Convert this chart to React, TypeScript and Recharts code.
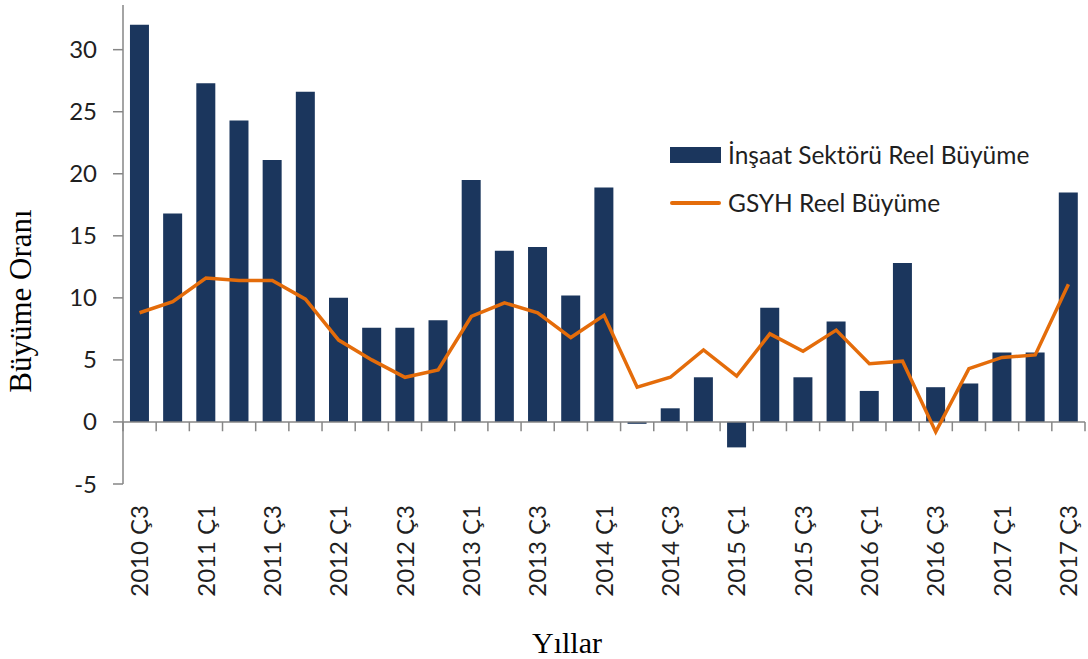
import { ComposedChart, Bar, Line, XAxis, YAxis, ReferenceLine, Legend } from "recharts";

const quarters = [
  "2010 Ç3", "2010 Ç4",
  "2011 Ç1", "2011 Ç2", "2011 Ç3", "2011 Ç4",
  "2012 Ç1", "2012 Ç2", "2012 Ç3", "2012 Ç4",
  "2013 Ç1", "2013 Ç2", "2013 Ç3", "2013 Ç4",
  "2014 Ç1", "2014 Ç2", "2014 Ç3", "2014 Ç4",
  "2015 Ç1", "2015 Ç2", "2015 Ç3", "2015 Ç4",
  "2016 Ç1", "2016 Ç2", "2016 Ç3", "2016 Ç4",
  "2017 Ç1", "2017 Ç2", "2017 Ç3",
];

// İnşaat sektörü reel büyüme (%)
const insaatGrowth = [
  32.0, 16.8,
  27.3, 24.3, 21.1, 26.6,
  10.0, 7.6, 7.6, 8.2,
  19.5, 13.8, 14.1, 10.2,
  18.9, -0.15, 1.1, 3.6,
  -2.05, 9.2, 3.6, 8.1,
  2.5, 12.8, 2.8, 3.1,
  5.6, 5.6, 18.5,
];

// GSYH reel büyüme (%)
const gdpGrowth = [
  8.8, 9.7,
  11.6, 11.4, 11.4, 9.9,
  6.6, 5.0, 3.6, 4.2,
  8.5, 9.6, 8.8, 6.8,
  8.6, 2.8, 3.6, 5.8,
  3.7, 7.1, 5.7, 7.4,
  4.7, 4.9, -0.8, 4.3,
  5.2, 5.4, 11.1,
];

const yTicks = [-5, 0, 5, 10, 15, 20, 25, 30];

const data = quarters.map((q, i) => ({
  quarter: q,
  insaat: insaatGrowth[i],
  gsyh: gdpGrowth[i],
}));

const NAVY = "#1b365d";
const ORANGE = "#e46c0a";
const AXIS = "#868686";
const TEXT = "#1f1f1f";
const SANS = "Lato, 'Open Sans', sans-serif";
const SERIF = "'Liberation Serif', 'DejaVu Serif', serif";

const QuarterTick = ({ x, y, payload }: any) => (
  <g transform={`translate(${x},${y})`}>
    <text transform="rotate(-90)" textAnchor="end" dy="0.36em" fontSize={24} fontFamily={SANS} fill={TEXT}>
      {payload.value}
    </text>
  </g>
);

const LegendBox = () => (
  <div style={{ fontFamily: SANS, fontSize: 24.5, color: TEXT, lineHeight: "28px" }}>
    <div style={{ display: "flex", alignItems: "center", height: 28, marginBottom: 20 }}>
      <span style={{ width: 51, height: 16, background: NAVY, marginRight: 7, display: "inline-block" }} />
      İnşaat Sektörü Reel Büyüme
    </div>
    <div style={{ display: "flex", alignItems: "center", height: 28 }}>
      <span style={{ width: 51, height: 4, borderRadius: 2, background: ORANGE, marginRight: 7, display: "inline-block" }} />
      GSYH Reel Büyüme
    </div>
  </div>
);

export default function App() {
  return (
    <div style={{ position: "absolute", left: 0, top: 0, width: 1088, height: 659, background: "#fff" }}>
      <ComposedChart
        width={1088}
        height={659}
        data={data}
        margin={{ top: 5, right: 3, bottom: 0, left: 0 }}
        barCategoryGap="21%"
      >
        <XAxis
          dataKey="quarter"
          height={175}
          interval={1}
          axisLine={false}
          tickLine={false}
          tickSize={0}
          tickMargin={21}
          tick={<QuarterTick />}
          label={{
            content: () => (
              <text x={567} y={653} textAnchor="middle" fontSize={30} fontFamily={SERIF} fill="#000">
                Yıllar
              </text>
            ),
          }}
        />
        <YAxis
          width={123}
          domain={[-5, 33.6]}
          ticks={yTicks}
          interval={0}
          stroke={AXIS}
          tickSize={10}
          tickMargin={16}
          tick={{ fontSize: 24, fontFamily: SANS, fill: TEXT }}
          axisLine={{ stroke: AXIS, strokeWidth: 1.5 }}
          tickLine={{ stroke: AXIS, strokeWidth: 1.5 }}
          label={{
            content: () => (
              <text
                x={31}
                y={301}
                transform="rotate(-90 31 301)"
                textAnchor="middle"
                fontSize={31}
                fontFamily={SERIF}
                fill="#000"
              >
                Büyüme Oranı
              </text>
            ),
          }}
        />
        <Legend
          layout="vertical"
          align="center"
          verticalAlign="middle"
          wrapperStyle={{ left: 670, top: 141, width: 418 }}
          content={<LegendBox />}
        />
        <Bar dataKey="insaat" name="İnşaat Sektörü Reel Büyüme" fill={NAVY} isAnimationActive={false} />
        <ReferenceLine y={0} stroke={AXIS} strokeWidth={1.5} />
        {quarters.map((q) => (
          <ReferenceLine
            key={`tick-${q}`}
            segment={[{ x: q, y: 0 }, { x: q, y: -0.75 }]}
            position="start"
            stroke={AXIS}
            strokeWidth={1.5}
            ifOverflow="visible"
          />
        ))}
        <ReferenceLine
          segment={[{ x: quarters[quarters.length - 1], y: 0 }, { x: quarters[quarters.length - 1], y: -0.75 }]}
          position="end"
          stroke={AXIS}
          strokeWidth={1.5}
          ifOverflow="visible"
        />
        <Line
          type="linear"
          dataKey="gsyh"
          name="GSYH Reel Büyüme"
          stroke={ORANGE}
          strokeWidth={3.5}
          dot={false}
          isAnimationActive={false}
        />
      </ComposedChart>
    </div>
  );
}
